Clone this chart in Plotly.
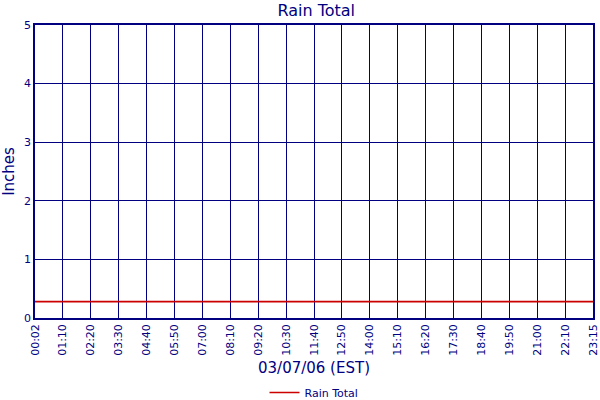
import plotly.graph_objects as go

times = ["00:02", "01:10", "02:20", "03:30", "04:40", "05:50", "07:00", "08:10",
         "09:20", "10:30", "11:40", "12:50", "14:00", "15:10", "16:20", "17:30",
         "18:40", "19:50", "21:00", "22:10", "23:15"]
rain_total = [0.28] * len(times)

navy = "#000080"
font = "DejaVu Sans, Verdana, sans-serif"

fig = go.Figure()
fig.add_trace(go.Scatter(x=list(range(len(times))), y=rain_total, mode="lines",
                         name="Rain Total", line=dict(color="#cc0000", width=1.6)))

fig.update_layout(
    width=600, height=400,
    margin=dict(l=35, r=7, t=25, b=82, autoexpand=False),
    paper_bgcolor="white", plot_bgcolor="white",
    font=dict(family=font, color=navy),
    title=dict(text="Rain Total", x=0.527, xanchor="center", y=0.975, yanchor="middle",
               font=dict(size=16, color=navy, family=font)),
    showlegend=True,
    legend=dict(orientation="h", x=0.5, xanchor="center", y=-0.205, yanchor="top",
                font=dict(size=11, color=navy), itemwidth=30),
    xaxis=dict(range=[0, len(times) - 1], tickmode="array", automargin=False,
               tickvals=list(range(len(times))), ticktext=times, tickangle=-90,
               ticklabeloverflow="allow",
               tickfont=dict(size=11, color=navy), showgrid=True, gridcolor=navy,
               gridwidth=1.2, showline=True, linecolor=navy, linewidth=1.5, mirror=True,
               zeroline=False, ticks="", title=dict(text="03/07/06 (EST)",
               font=dict(size=15, color=navy), standoff=8)),
    yaxis=dict(range=[0, 5], dtick=1, tickfont=dict(size=11, color=navy), automargin=False,
               showgrid=True, gridcolor=navy, gridwidth=1.2, showline=True,
               linecolor=navy, linewidth=1.5, mirror=True, zeroline=False, ticks="",
               title=dict(text="Inches", font=dict(size=15, color=navy), standoff=6)),
)

fig.write_html("out.html", config={"displayModeBar": False},
               post_script="document.body.style.margin='0';document.body.style.padding='0';")
